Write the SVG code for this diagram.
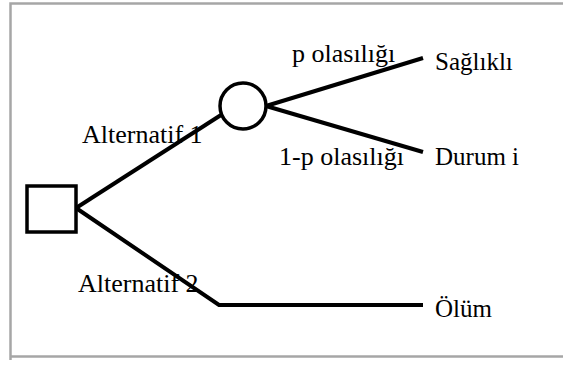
<svg xmlns="http://www.w3.org/2000/svg" width="563" height="368" viewBox="0 0 563 368">
<style>
text{font-family:'Liberation Serif','Times New Roman',Times,serif;font-size:25px;fill:#000}
.w{font-size:26px}
.e{stroke:#000;stroke-width:4;fill:none;stroke-linecap:butt}
.n{stroke:#000;stroke-width:3.5;fill:#fff}
</style>
<rect x="0" y="0" width="563" height="368" fill="#fff"/>
<path d="M10.5 360 V3.5 H570 M10.5 356.5 H570" stroke="#a6a6a6" stroke-width="2.5" fill="none"/>
<g id="connectors">
<line class="e" x1="76" y1="208" x2="221" y2="115"/>
<polyline class="e" points="76,208 219,305 423,305"/>
<line class="e" x1="266" y1="106" x2="423" y2="58"/>
<line class="e" x1="266" y1="106" x2="423" y2="152"/>
</g>
<g id="decision"><rect class="n" x="27" y="186" width="49" height="46"/></g>
<g id="chance"><circle class="n" cx="243" cy="106" r="23"/></g>
<g id="labels">
<text class="w" x="82" y="143">Alternatif 1</text>
<text class="w" x="78" y="292">Alternatif 2</text>
<text class="w" x="292" y="62">p olasılığı</text>
<text class="w" x="279" y="165">1-p olasılığı</text>
</g>
<g id="outcome-saglikli"><text x="435" y="70">Sağlıklı</text></g>
<g id="outcome-durum"><text x="435" y="165">Durum i</text></g>
<g id="outcome-olum"><text x="435" y="317">Ölüm</text></g>
</svg>
